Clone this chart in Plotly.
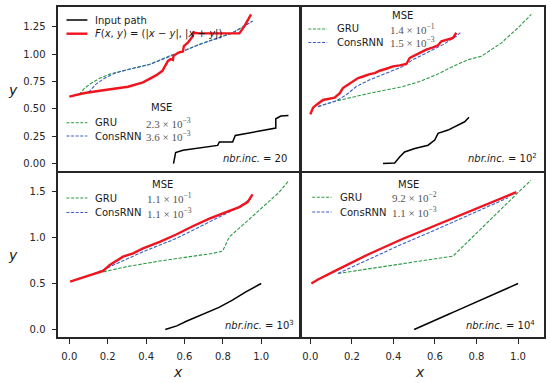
import plotly.graph_objects as go

# ---------------- data ----------------
# Panel 1 (nbr. inc. = 20)
p1_in_x = [0.543, 0.554, 0.592, 0.678, 0.773, 0.782, 0.851, 0.865, 0.990, 1.076, 1.076, 1.102, 1.142]
p1_in_y = [0.000, 0.100, 0.121, 0.145, 0.166, 0.197, 0.197, 0.257, 0.294, 0.325, 0.410, 0.434, 0.439]
p1_f_x = [0.000, 0.073, 0.159, 0.306, 0.384, 0.454, 0.485, 0.514, 0.528, 0.540, 0.543, 0.569, 0.592,
          0.597, 0.618, 0.644, 0.647, 0.678, 0.886, 0.912, 0.947]
p1_f_y = [0.612, 0.643, 0.666, 0.703, 0.743, 0.809, 0.848, 0.939, 0.955, 0.948, 0.985, 1.015, 1.025,
          1.075, 1.106, 1.166, 1.197, 1.191, 1.191, 1.255, 1.364]
p1_gru_x = [0.050, 0.080, 0.107, 0.160, 0.211, 0.315, 0.419, 0.523, 0.574, 0.678, 0.851, 0.955]
p1_gru_y = [0.630, 0.690, 0.727, 0.782, 0.818, 0.864, 0.909, 0.985, 1.015, 1.091, 1.197, 1.303]
p1_cr_x = [0.073, 0.107, 0.139, 0.185, 0.237, 0.315, 0.419, 0.523, 0.574, 0.678, 0.851, 0.955]
p1_cr_y = [0.636, 0.664, 0.727, 0.782, 0.827, 0.864, 0.906, 0.982, 1.012, 1.088, 1.195, 1.303]

# Panel 2 (nbr. inc. = 10^2)
p2_in_x = [0.350, 0.406, 0.430, 0.454, 0.503, 0.567, 0.599, 0.615, 0.663, 0.711, 0.743, 0.764]
p2_in_y = [0.000, 0.005, 0.060, 0.105, 0.136, 0.166, 0.212, 0.273, 0.303, 0.348, 0.378, 0.418]
p2_f_x = [0.000, 0.013, 0.029, 0.053, 0.061, 0.117, 0.142, 0.157, 0.182, 0.206, 0.230, 0.254, 0.286,
          0.310, 0.334, 0.366, 0.398, 0.430, 0.462, 0.479, 0.494, 0.527, 0.558, 0.591, 0.615, 0.631,
          0.655, 0.687, 0.703]
p2_f_y = [0.445, 0.505, 0.530, 0.560, 0.575, 0.596, 0.636, 0.682, 0.712, 0.742, 0.773, 0.787, 0.809,
          0.818, 0.839, 0.857, 0.878, 0.887, 0.900, 0.955, 0.969, 1.000, 1.030, 1.051, 1.069, 1.105,
          1.121, 1.136, 1.182]
p2_gru_x = [0.037, 0.125, 0.286, 0.446, 0.527, 0.607, 0.687, 0.759, 0.823, 0.920, 1.000, 1.064]
p2_gru_y = [0.515, 0.566, 0.636, 0.696, 0.742, 0.803, 0.878, 0.939, 0.969, 1.091, 1.227, 1.348]
p2_cr_x = [0.037, 0.125, 0.173, 0.221, 0.286, 0.366, 0.446, 0.494, 0.558, 0.639, 0.703, 0.727]
p2_cr_y = [0.515, 0.566, 0.621, 0.696, 0.757, 0.818, 0.878, 0.939, 1.000, 1.075, 1.151, 1.191]

# Panel 3 (nbr. inc. = 10^3)
p3_in_x = [0.500, 0.560, 0.610, 0.710, 0.780, 0.850, 0.920, 1.000]
p3_in_y = [0.000, 0.040, 0.090, 0.180, 0.240, 0.320, 0.410, 0.500]
p3_f_x = [0.004, 0.056, 0.125, 0.176, 0.211, 0.280, 0.332, 0.384, 0.471, 0.557, 0.643, 0.730, 0.817,
          0.886, 0.929, 0.947, 0.955]
p3_f_y = [0.521, 0.558, 0.601, 0.636, 0.701, 0.791, 0.827, 0.881, 0.953, 1.032, 1.122, 1.205, 1.276,
          1.330, 1.384, 1.440, 1.467]
p3_gru_x = [0.125, 0.298, 0.471, 0.643, 0.747, 0.799, 0.834, 0.903, 0.990, 1.093, 1.145]
p3_gru_y = [0.601, 0.683, 0.744, 0.791, 0.827, 0.852, 1.007, 1.133, 1.294, 1.490, 1.620]
p3_cr_x = [0.125, 0.211, 0.384, 0.557, 0.730, 0.869, 0.947]
p3_cr_y = [0.601, 0.683, 0.845, 0.989, 1.168, 1.313, 1.421]

# Panel 4 (nbr. inc. = 10^4)
p4_in_x = [0.500, 0.600, 0.663, 0.700, 0.800, 0.900, 1.000]
p4_in_y = [0.000, 0.095, 0.163, 0.200, 0.300, 0.400, 0.500]
p4_f_x = [0.005, 0.037, 0.117, 0.278, 0.438, 0.599, 0.759, 0.920, 0.992]
p4_f_y = [0.500, 0.543, 0.634, 0.815, 0.978, 1.130, 1.275, 1.432, 1.492]
p4_gru_x = [0.133, 0.687, 1.016, 1.062]
p4_gru_y = [0.609, 0.797, 1.522, 1.620]
p4_cr_x = [0.133, 0.278, 0.438, 0.599, 0.759, 0.952]
p4_cr_y = [0.609, 0.761, 0.924, 1.079, 1.239, 1.432]

mse_gru = ["2.3 × 10<sup>−3</sup>", "1.4 × 10<sup>−1</sup>", "1.1 × 10<sup>−1</sup>", "9.2 × 10<sup>−2</sup>"]
mse_cr = ["3.6 × 10<sup>−3</sup>", "1.5 × 10<sup>−3</sup>", "1.1 × 10<sup>−3</sup>", "1.1 × 10<sup>−3</sup>"]
nbr_inc = ["20", "10<sup>2</sup>", "10<sup>3</sup>", "10<sup>4</sup>"]
names = ["Input path", "<i>F</i>(<i>x</i>, <i>y</i>) = (|<i>x</i> − <i>y</i>|, |<i>x</i> + <i>y</i>|)", "GRU", "ConsRNN"]

# ---------------- styles ----------------
C_RED = "#f0141e"
C_BLK = "#000000"
C_GRN = "#2a9a45"
C_BLU = "#3a5ccc"
FONT = "DejaVu Sans"
W, H = 550, 383
L, R, T, B = 58, 546, 7, 337  # plot area in px


def PX(x):
    return (x - L) / (R - L)


def PY(y):
    return (B - y) / (B - T)


fig = go.Figure()
panels = [
    (p1_in_x, p1_in_y, p1_f_x, p1_f_y, p1_gru_x, p1_gru_y, p1_cr_x, p1_cr_y),
    (p2_in_x, p2_in_y, p2_f_x, p2_f_y, p2_gru_x, p2_gru_y, p2_cr_x, p2_cr_y),
    (p3_in_x, p3_in_y, p3_f_x, p3_f_y, p3_gru_x, p3_gru_y, p3_cr_x, p3_cr_y),
    (p4_in_x, p4_in_y, p4_f_x, p4_f_y, p4_gru_x, p4_gru_y, p4_cr_x, p4_cr_y),
]
for i, (ix, iy, fx, fy, gx, gy, cx, cy) in enumerate(panels):
    xa = "x" if i == 0 else f"x{i+1}"
    ya = "y" if i == 0 else f"y{i+1}"
    fig.add_trace(go.Scatter(x=ix, y=iy, mode="lines", line=dict(color=C_BLK, width=1.5),
                             xaxis=xa, yaxis=ya, showlegend=False))
    fig.add_trace(go.Scatter(x=gx, y=gy, mode="lines", line=dict(color=C_GRN, width=1.1, dash="3.5px,1.6px"),
                             xaxis=xa, yaxis=ya, showlegend=False))
    fig.add_trace(go.Scatter(x=cx, y=cy, mode="lines", line=dict(color=C_BLU, width=1.1, dash="3.5px,1.6px"),
                             xaxis=xa, yaxis=ya, showlegend=False))
    fig.add_trace(go.Scatter(x=fx, y=fy, mode="lines", line=dict(color=C_RED, width=2.4),
                             xaxis=xa, yaxis=ya, showlegend=False))

col1 = [0, 242 / 488]
col2 = [245 / 488, 1]
rowT = [(B - 171) / (B - T), 1]
rowB = [0, (B - 173) / (B - T)]
xr1 = [-0.059, 1.197]
xr2 = [-0.04, 1.125]

frame = dict(showline=True, mirror=True, linecolor="#262626", linewidth=2, showgrid=False, zeroline=False)
tickf = dict(family=FONT, size=10, color="#262626")
tk = dict(ticks="outside", ticklen=4.5, tickwidth=1, tickcolor="#262626", tickfont=tickf, ticklabelstandoff=4)

layout_axes = dict(
    xaxis=dict(domain=col1, range=xr1, anchor="y", showticklabels=False, ticks="", **frame),
    yaxis=dict(domain=rowT, range=[-0.068, 1.432], anchor="x",
               tickvals=[0, 0.25, 0.5, 0.75, 1.0, 1.25], ticktext=["0.00", "0.25", "0.50", "0.75", "1.00", "1.25"],
               **tk, **frame),
    xaxis2=dict(domain=col2, range=xr2, anchor="y2", showticklabels=False, ticks="", **frame),
    yaxis2=dict(domain=rowT, range=[-0.067, 1.415], anchor="x2", showticklabels=False, ticks="", **frame),
    xaxis3=dict(domain=col1, range=xr1, anchor="y3",
                tickvals=[0, 0.2, 0.4, 0.6, 0.8, 1.0], ticktext=["0.0", "0.2", "0.4", "0.6", "0.8", "1.0"],
                **tk, **frame),
    yaxis3=dict(domain=rowB, range=[-0.081, 1.70], anchor="x3",
                tickvals=[0, 0.5, 1.0, 1.5], ticktext=["0.0", "0.5", "1.0", "1.5"], **tk, **frame),
    xaxis4=dict(domain=col2, range=xr2, anchor="y4",
                tickvals=[0, 0.2, 0.4, 0.6, 0.8, 1.0], ticktext=["0.0", "0.2", "0.4", "0.6", "0.8", "1.0"],
                **tk, **frame),
    yaxis4=dict(domain=rowB, range=[-0.081, 1.70], anchor="x4", showticklabels=False, ticks="", **frame),
)

shapes = []
annots = []


def txt(x, y, s, size=10, xanchor="left", yanchor="middle", family=FONT, color="#1a1a1a"):
    annots.append(dict(x=PX(x), y=PY(y), xref="paper", yref="paper", text=s, showarrow=False,
                       xanchor=xanchor, yanchor=yanchor, font=dict(family=family, size=size, color=color)))


def sample(x0, x1, y, color, width, dash="solid"):
    shapes.append(dict(type="line", xref="paper", yref="paper", x0=PX(x0), x1=PX(x1), y0=PY(y), y1=PY(y),
                       line=dict(color=color, width=width, dash=dash)))


# top-left main legend
sample(66.5, 87.5, 20, C_BLK, 1.5)
txt(93, 20, names[0])
sample(66.5, 87.5, 33.7, C_RED, 2.4)
txt(93, 33.7, names[1])

# MSE legends: (mse_x_center, mse_y, line_x0, line_x1, text_x, value_x, gru_y, cr_y)
mse_pos = [
    (162, 108, 66.5, 87.5, 93, 144, 122.7, 136),
    (404, 16, 309.3, 328.3, 336, 389, 29, 42.5),
    (163, 185, 66.5, 87.5, 93, 145, 198, 212.5),
    (410, 184, 313.3, 332.7, 339.3, 391, 197.3, 212),
]
SERIF = "Liberation Serif"
for i, (mx, my, lx0, lx1, tx, vx, gy, cy) in enumerate(mse_pos):
    txt(mx, my, "MSE", xanchor="center")
    sample(lx0, lx1, gy, C_GRN, 1.1, "3px,1.6px")
    txt(tx, gy, names[2])
    txt(vx, gy, mse_gru[i], size=11, family=SERIF, color="#555555")
    sample(lx0, lx1, cy, C_BLU, 1.1, "3px,1.6px")
    txt(tx, cy, names[3])
    txt(vx, cy, mse_cr[i], size=11, family=SERIF, color="#555555")

# nbr. inc. labels
nb_pos = [(290, 166.5), (541, 166.5), (296.5, 332.5), (538.5, 332.5)]
for i, (x, y) in enumerate(nb_pos):
    txt(x, y, "<i>nbr.inc.</i> = " + nbr_inc[i], xanchor="right", yanchor="bottom")

# axis labels
txt(13, 90, "<i>y</i>", size=14, xanchor="center")
txt(13, 255, "<i>y</i>", size=14, xanchor="center")
txt(178, 372, "<i>x</i>", size=14, xanchor="center")
txt(421.7, 372, "<i>x</i>", size=14, xanchor="center")

fig.update_layout(
    width=W, height=H,
    margin=dict(l=L, r=W - R, t=T, b=H - B, pad=0),
    paper_bgcolor="white", plot_bgcolor="white",
    showlegend=False,
    shapes=shapes, annotations=annots,
    **layout_axes,
)

fig.write_html("out.html", config={"displayModeBar": False},
               post_script="document.body.style.margin='0';document.body.style.padding='0';"
                           "document.documentElement.style.margin='0';")
